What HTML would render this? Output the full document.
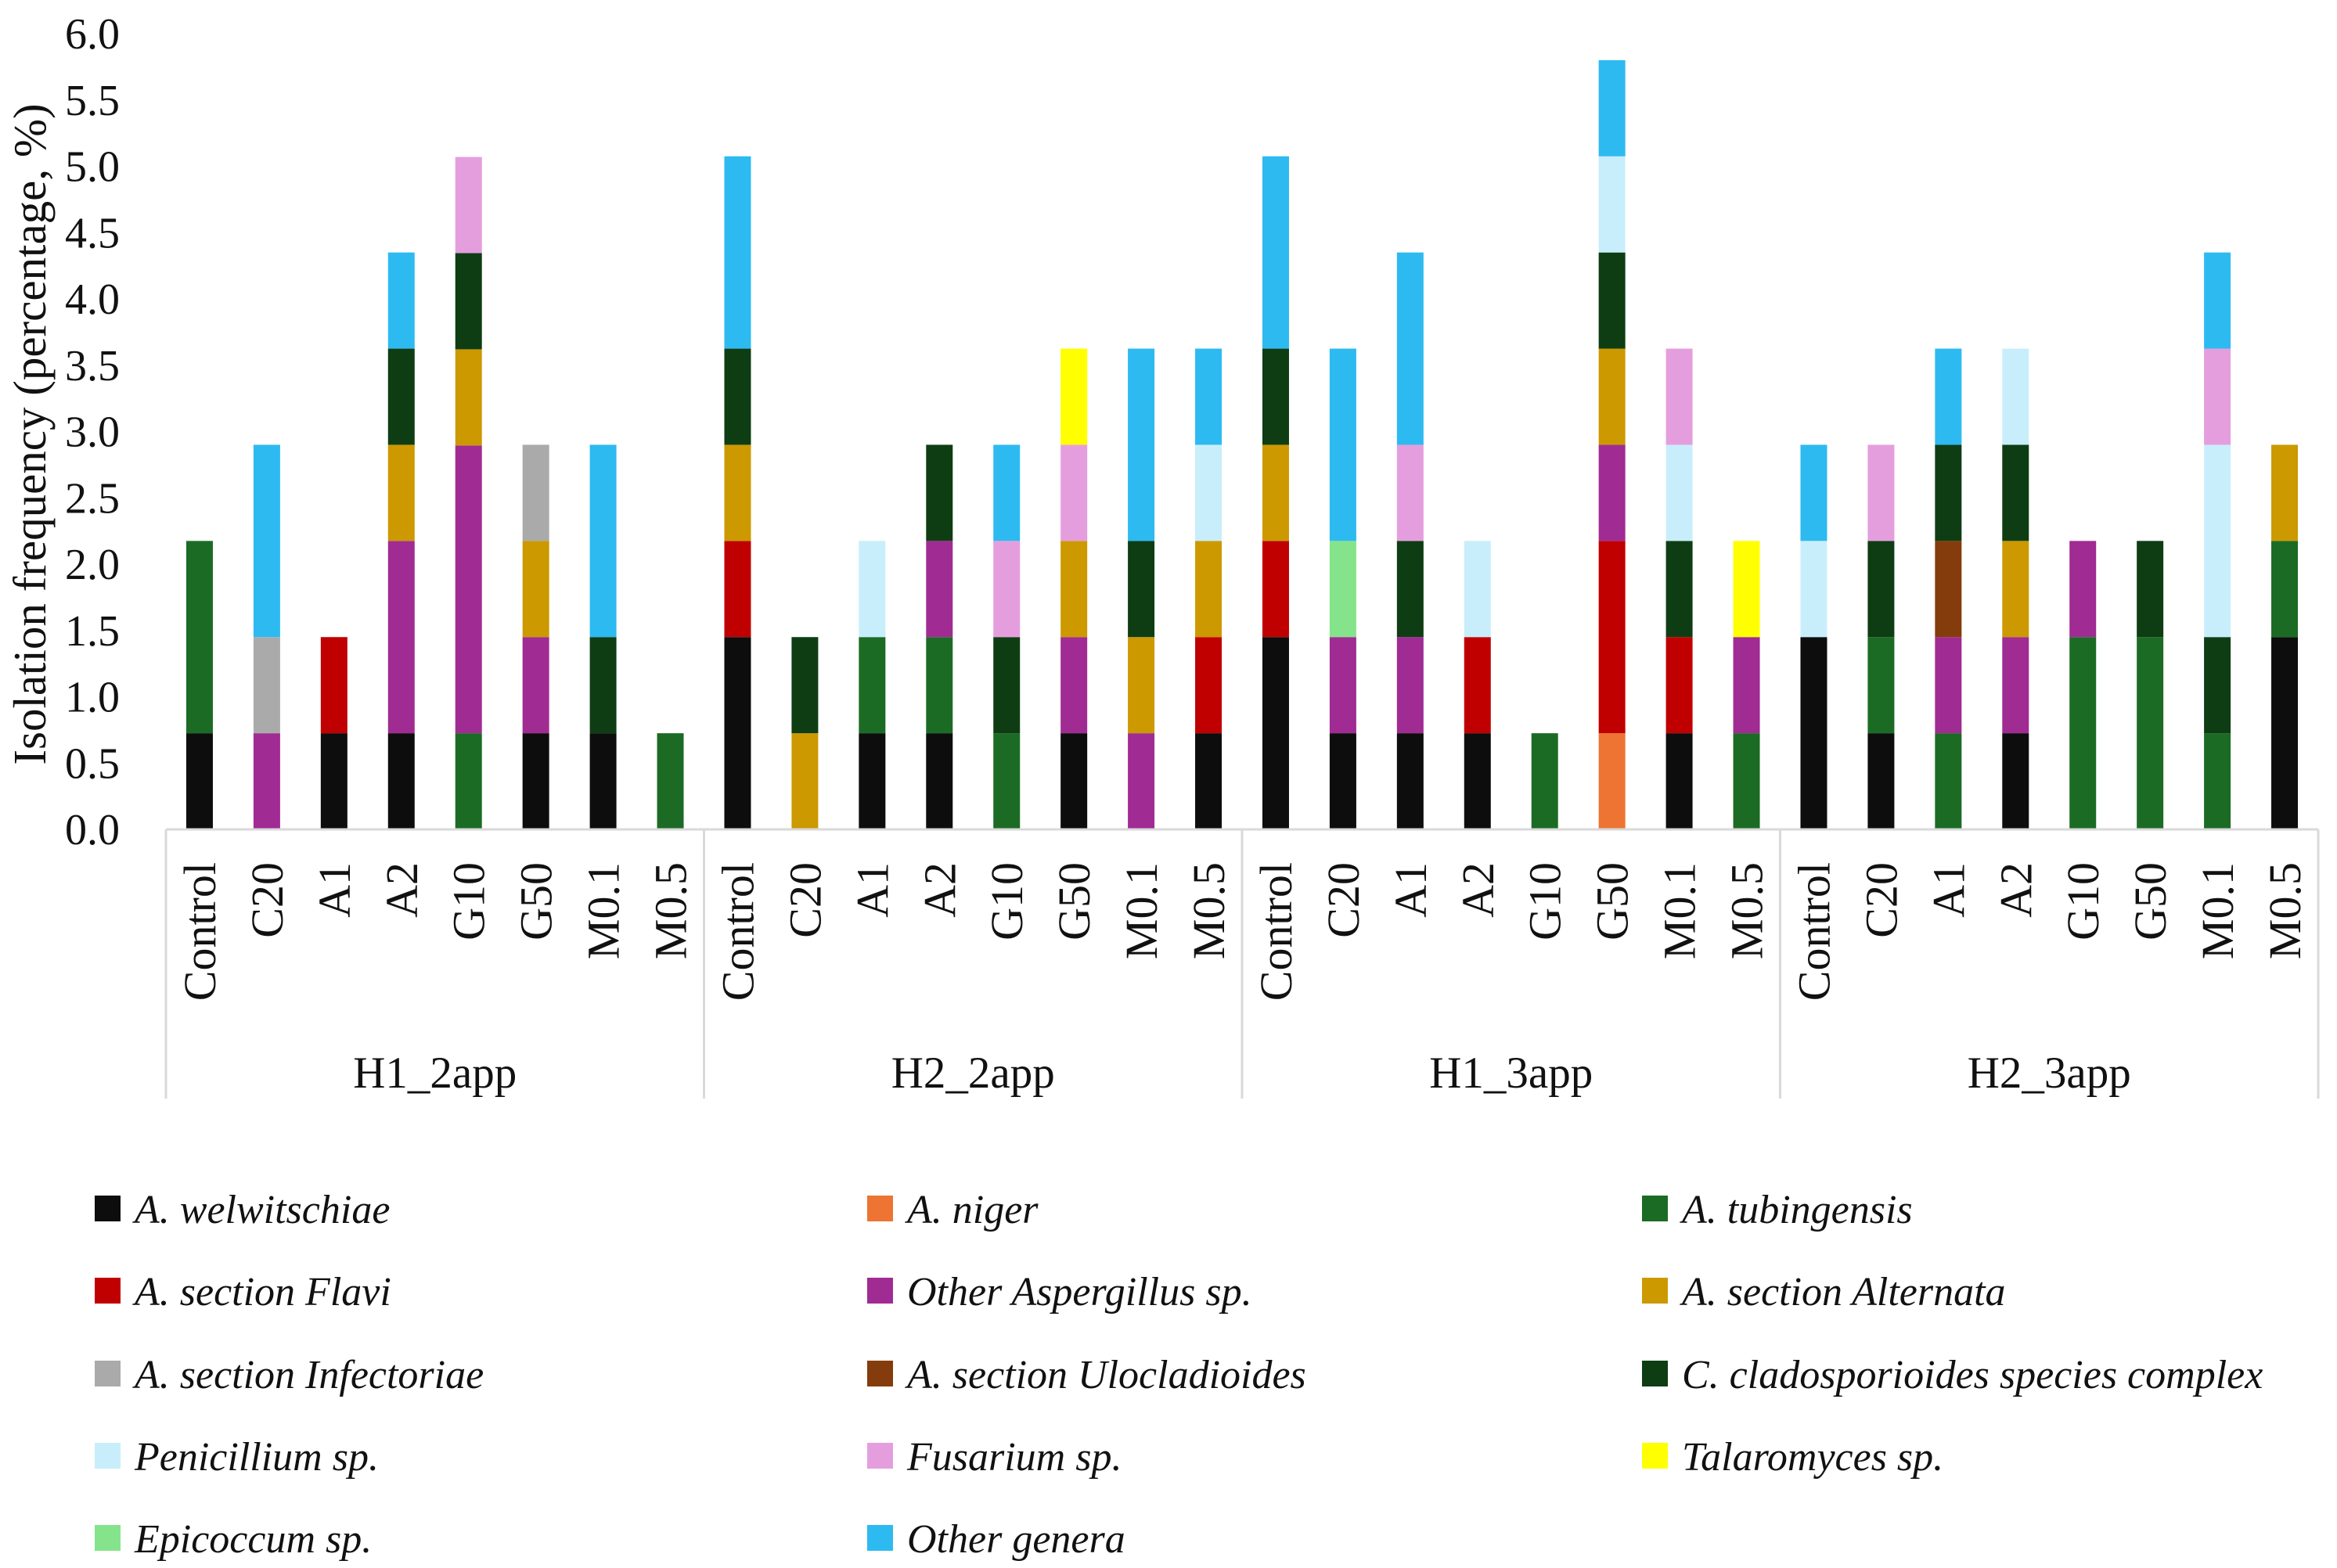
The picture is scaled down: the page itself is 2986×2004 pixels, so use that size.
<!DOCTYPE html>
<html><head><meta charset="utf-8"><style>
html,body{margin:0;padding:0;background:#fff;}
svg{display:block;font-family:"Liberation Serif",serif;}
</style></head><body>
<svg id="chart" width="2986" height="2004" viewBox="0 0 2986 2004" xmlns="http://www.w3.org/2000/svg"></svg>
<script>
const groups = ["H1_2app","H2_2app","H1_3app","H2_3app"];
const treatments = ["Control","C20","A1","A2","G10","G50","M0.1","M0.5"];
const yTicks = ["0.0","0.5","1.0","1.5","2.0","2.5","3.0","3.5","4.0","4.5","5.0","5.5","6.0"];
const seriesNames = ["A. welwitschiae","A. niger","A. tubingensis","A. section Flavi","Other Aspergillus sp.","A. section Alternata","A. section Infectoriae","A. section Ulocladioides","C. cladosporioides species complex","Penicillium sp.","Fusarium sp.","Talaromyces sp.","Epicoccum sp.","Other genera"];
const seriesColors = ["#0d0d0d","#ed7432","#1b6b24","#c00000","#a02b93","#cc9900","#aaaaaa","#843c0c","#0e3d14","#c9eefb","#e59edd","#ffff00","#85e38c","#2dbaf0"];
// values (%) per series, 32 bars: H1_2app x8, H2_2app x8, H1_3app x8, H2_3app x8
const welwitschiae = [0.725,0,0.725,0.725,0,0.725,0.725,0, 1.45,0,0.725,0.725,0,0.725,0,0.725, 1.45,0.725,0.725,0.725,0,0,0.725,0, 1.45,0.725,0,0.725,0,0,0,1.45];
const niger        = [0,0,0,0,0,0,0,0, 0,0,0,0,0,0,0,0, 0,0,0,0,0,0.725,0,0, 0,0,0,0,0,0,0,0];
const tubingensis  = [1.45,0,0,0,0.725,0,0,0.725, 0,0,0.725,0.725,0.725,0,0,0, 0,0,0,0,0.725,0,0,0.725, 0,0.725,0.725,0,1.45,1.45,0.725,0.725];
const flavi        = [0,0,0.725,0,0,0,0,0, 0.725,0,0,0,0,0,0,0.725, 0.725,0,0,0.725,0,1.45,0.725,0, 0,0,0,0,0,0,0,0];
const otherAsp     = [0,0.725,0,1.45,2.17,0.725,0,0, 0,0,0,0.725,0,0.725,0.725,0, 0,0.725,0.725,0,0,0.725,0,0.725, 0,0,0.725,0.725,0.725,0,0,0];
const alternata    = [0,0,0,0.725,0.725,0.725,0,0, 0.725,0.725,0,0,0,0.725,0.725,0.725, 0.725,0,0,0,0,0.725,0,0, 0,0,0,0.725,0,0,0,0.725];
const infectoriae  = [0,0.725,0,0,0,0.725,0,0, 0,0,0,0,0,0,0,0, 0,0,0,0,0,0,0,0, 0,0,0,0,0,0,0,0];
const ulocladioides= [0,0,0,0,0,0,0,0, 0,0,0,0,0,0,0,0, 0,0,0,0,0,0,0,0, 0,0,0.725,0,0,0,0,0];
const cladosp      = [0,0,0,0.725,0.725,0,0.725,0, 0.725,0.725,0,0.725,0.725,0,0.725,0, 0.725,0,0.725,0,0,0.725,0.725,0, 0,0.725,0.725,0.725,0,0.725,0.725,0];
const penicillium  = [0,0,0,0,0,0,0,0, 0,0,0.725,0,0,0,0,0.725, 0,0,0,0.725,0,0.725,0.725,0, 0.725,0,0,0.725,0,0,1.45,0];
const fusarium     = [0,0,0,0,0.725,0,0,0, 0,0,0,0,0.725,0.725,0,0, 0,0,0.725,0,0,0,0.725,0, 0,0.725,0,0,0,0,0.725,0];
const talaromyces  = [0,0,0,0,0,0,0,0, 0,0,0,0,0,0.725,0,0, 0,0,0,0,0,0,0,0.725, 0,0,0,0,0,0,0,0];
const epicoccum    = [0,0,0,0,0,0,0,0, 0,0,0,0,0,0,0,0, 0,0.725,0,0,0,0,0,0, 0,0,0,0,0,0,0,0];
const otherGenera  = [0,1.45,0,0.725,0,0,1.45,0, 1.45,0,0,0,0.725,0,1.45,0.725, 1.45,1.45,1.45,0,0,0.725,0,0, 0.725,0,0.725,0,0,0,0.725,0];
const seriesValues = [welwitschiae,niger,tubingensis,flavi,otherAsp,alternata,infectoriae,ulocladioides,cladosp,penicillium,fusarium,talaromyces,epicoccum,otherGenera];

const NS="http://www.w3.org/2000/svg";
const svg=document.getElementById('chart');
function mk(tag,attrs,parent){const e=document.createElementNS(NS,tag);for(const k in attrs)e.setAttribute(k,attrs[k]);(parent||svg).appendChild(e);return e;}
const X0=212,X1=2962,Y0=1060,UNIT=169.5,BARW=34;
const nBars=groups.length*treatments.length;
const band=(X1-X0)/nBars;
function xCenter(i){return X0+band*(i+0.5);}
function yScale(v){return Y0-v*UNIT;}

// y ticks
const yAxis=mk('g',{});


yTicks.forEach(t=>{
  const e=mk('text',{x:153,y:yScale(parseFloat(t))+19,'text-anchor':'end','font-size':56,fill:'#111'},yAxis);
  
  
  e.textContent=t;
});
const yt=mk('text',{x:0,y:0,transform:'translate(58,555) rotate(-90)','text-anchor':'middle','font-size':59,fill:'#111'});


yt.textContent='Isolation frequency (percentage, %)';

// bars
const barsG=mk('g',{});


for(let i=0;i<nBars;i++){
  let cum=0;
  seriesValues.forEach((arr,s)=>{
    const v=arr[i];
    if(v>0){
      const r=mk('rect',{x:xCenter(i)-BARW/2,y:yScale(cum+v),width:BARW,height:v*UNIT,fill:seriesColors[s]},barsG);
      
      
      cum+=v;
    }
  });
}

// x axis frame
const xa=mk('g',{stroke:'#d9d9d9','stroke-width':3,fill:'none'});


mk('line',{x1:X0,y1:Y0,x2:X1,y2:Y0},xa);
for(let g=0;g<=groups.length;g++){
  const x=X0+g*band*treatments.length;
  mk('line',{x1:x,y1:Y0,x2:x,y2:1404},xa);
}
groups.forEach((gname,g)=>{
  treatments.forEach((t,j)=>{
    const i=g*treatments.length+j;
    const e=mk('text',{x:0,y:0,transform:`translate(${xCenter(i)+20},1102) rotate(-90)`,'text-anchor':'end','font-size':58,fill:'#111'});
    
    
    e.textContent=t;
  });
  const gx=X0+(g+0.5)*band*treatments.length;
  const e=mk('text',{x:gx,y:1390,'text-anchor':'middle','font-size':57,fill:'#111'});
  
  
  e.textContent=gname;
});

// legend
const lg=mk('g',{});


const colX=[121,1108,2098],rowY=[1545,1650,1756,1861,1966];
seriesNames.forEach((n,k)=>{
  const c=k%3,r=Math.floor(k/3);
  const it=mk('g',{},lg);
  
  
  mk('rect',{x:colX[c],y:rowY[r]-17,width:33,height:33,fill:seriesColors[k]},it);
  const t=mk('text',{x:colX[c]+51,y:rowY[r]+18,'font-size':52,'font-style':'italic',fill:'#111'},it);
  t.textContent=n;
});
</script>
</body></html>
